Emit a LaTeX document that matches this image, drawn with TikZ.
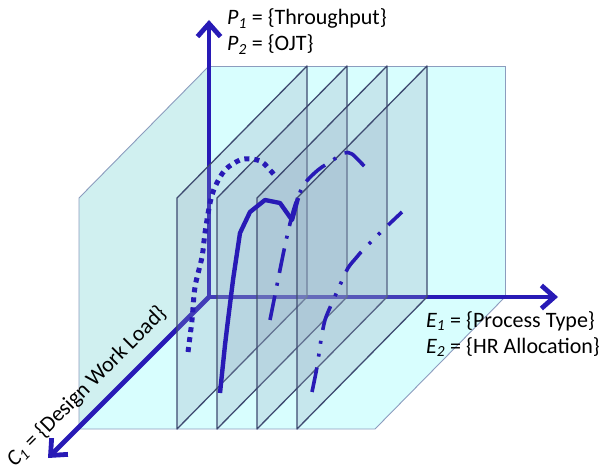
\documentclass[tikz,border=0pt]{standalone}
\usepackage{fontspec}
\setmainfont{Carlito}
\usetikzlibrary{arrows.meta}
\definecolor{axisblue}{RGB}{40,26,182}
\definecolor{backcyan}{RGB}{216,254,254}
\definecolor{wallcyan}{RGB}{208,240,240}
\definecolor{planeedge}{RGB}{140,156,190}
\definecolor{slicefill}{RGB}{146,166,190}
\definecolor{sliceedge}{RGB}{62,74,112}
\begin{document}
\begin{tikzpicture}[x=1pt,y=-1pt,
  plane/.style={draw=planeedge,line width=0.9pt},
  slicebox/.style={fill=slicefill,fill opacity=0.25,draw=sliceedge,draw opacity=1,line width=1.3pt,line join=round},
  axisline/.style={draw=axisblue,line width=4.8pt,-{Straight Barb[length=13pt,width=23pt]}},
  curve/.style={draw=axisblue,line width=4.4pt,line join=round},
  lbl/.style={font=\fontsize{22}{26}\selectfont,anchor=base west,inner sep=0pt}
]
\useasboundingbox (0,0) rectangle (602,470);
% back plane, floor, left wall
\path[plane,fill=backcyan] (209,66) -- (505,66) -- (505,297) -- (209,297) -- cycle;
\path[plane,fill=backcyan] (209,297) -- (505,297) -- (375,429) -- (79,429) -- cycle;
\path[plane,fill=wallcyan] (209,66) -- (209,297) -- (79,429) -- (79,198) -- cycle;
% axes
\coordinate (O) at (209,297);
\coordinate (ytip) at (209,20);
\coordinate (xtip) at (558,297);
\coordinate (ztip) at (48,458);
\draw[axisline] (O) -- (ytip);
\draw[axisline] (O) -- (xtip);
\draw[axisline] (O) -- (ztip);
% slices
\foreach \xb in {307,347,387,427}{
  \path[slicebox] (\xb,66) -- (\xb,297) -- ({\xb-130},429) -- ({\xb-130},198) -- cycle;
}
% curves
\draw[curve,line width=5pt,dash pattern=on 5pt off 5pt] plot[smooth,tension=0.55] coordinates {(188,352) (192,320) (195,287) (202,257) (205,233) (210,203) (215,187) (225,170) (240,160) (252,159) (262,162) (270,170) (277,178)};
\draw[curve] (220,393) -- (225,345) -- (228,320) -- (233,280) -- (240,233) -- (250,212) -- (265,200) -- (280,203) -- (292,220) -- (298,198);
\draw[curve,line width=3.6pt,dash pattern=on 25pt off 10pt on 3pt off 10pt] plot[smooth,tension=0.5] coordinates {(270,320) (275,295) (283,255) (288,232) (293,212) (298,197) (305,183) (318,170) (333,160) (344,153) (352,154) (365,167)};
\draw[curve,line width=3.6pt,dash pattern=on 25pt off 11pt on 3pt off 10pt on 3pt off 11pt] plot[smooth,tension=0.5] coordinates {(312,392) (317,367) (321,340) (325,320) (332,303) (340,285) (348,268) (356,258) (363,250) (382,231) (402,212)};
% labels
\node[lbl] (p1) at (227,25) {\textit{P\textsubscript{1}} = \{Throughput\}};
\node[lbl] (p2) at (227,51) {\textit{P\textsubscript{2}} = \{OJT\}};
\node[lbl] (e1) at (426,327) {\textit{E\textsubscript{1}} = \{Process Type\}};
\node[lbl] (e2) at (426,353) {\textit{E\textsubscript{2}} = \{HR Allocation\}};
\node[lbl,anchor=base,rotate=45] (c1) at (91,391) {\textit{C\textsubscript{1}} = \{Design Work Load\}};
\end{tikzpicture}
\end{document}
